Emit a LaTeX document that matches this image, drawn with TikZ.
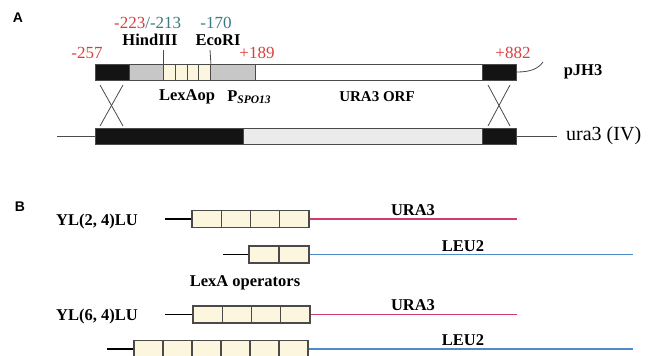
\documentclass[tikz,border=0pt]{standalone}
\usepackage{fontspec}
\setmainfont{Liberation Serif}
\setsansfont{Liberation Sans}
\definecolor{numred}{HTML}{D8403F}
\definecolor{numteal}{HTML}{3A7A80}
\definecolor{urared}{HTML}{D23C6B}
\definecolor{leublue}{HTML}{4F8AC9}
\definecolor{opcream}{HTML}{FCF6DE}
\definecolor{barline}{HTML}{4A4A4A}
\begin{document}
\begin{tikzpicture}[x=1pt,y=-1pt,
  lbl/.style={font=\fontsize{16.5}{18}\selectfont\bfseries,inner sep=0pt},
  num/.style={font=\fontsize{17}{19}\selectfont,inner sep=0pt},
  panel/.style={font=\sffamily\bfseries\fontsize{14}{16}\selectfont,inner sep=0pt},
  seg/.style={draw=barline,line width=0.9pt,minimum height=16pt,inner sep=0pt,anchor=west},
  opbox/.style={draw=barline,fill=opcream,line width=1.3pt,minimum height=17pt,inner sep=0pt},
  xline/.style={draw=barline,line width=0.8pt}]
\useasboundingbox (0,0) rectangle (648,356);
\clip (0,0) rectangle (648,356);
% Panel A: integration of pJH3 at ura3
\node[panel] (pA) at (18,18) {A};
\node[seg,fill=black!92,minimum width=34pt] (blkA) at (95,72) {};
\node[seg,fill=black!22,minimum width=34pt] (grayA) at (129,72) {};
\foreach \i in {1,...,4}
  \node[seg,fill=opcream,minimum width=11.75pt] (op\i) at ({163+(\i-1)*11.75},72) {};
\node[seg,fill=black!22,minimum width=45pt] (grayB) at (210,72) {};
\node[seg,fill=white,minimum width=227pt] (orf) at (255,72) {};
\node[seg,fill=black!92,minimum width=34pt] (blkB) at (482,72) {};
\coordinate (hind) at (163,50);
\coordinate (eco) at (210,50);
\draw[barline,line width=0.8pt] (op1.north west) -- (hind);
\draw[barline,line width=0.8pt] (op4.north east) -- (eco);
\coordinate (tail) at (543,62);
\draw[barline,line width=0.8pt] (blkB.east) .. controls (530,72) and (538,69) .. (tail);
% chromosome
\coordinate (chrL) at (57,136);
\coordinate (chrR) at (557,136);
\node[seg,fill=black!92,minimum width=148pt] (blkC) at (95,136) {};
\node[seg,fill=black!8,minimum width=239pt] (lgray) at (243,136) {};
\node[seg,fill=black!92,minimum width=34pt] (blkD) at (482,136) {};
\draw[barline,line width=1pt] (chrL) -- (blkC.west);
\draw[barline,line width=1pt] (blkD.east) -- (chrR);
% crossovers
\coordinate (xa1) at (100,85); \coordinate (xa2) at (123,85);
\coordinate (xb1) at (100,126); \coordinate (xb2) at (123,126);
\draw[xline] (xa1) -- (xb2); \draw[xline] (xa2) -- (xb1);
\coordinate (xc1) at (488,85); \coordinate (xc2) at (510,85);
\coordinate (xd1) at (488,126); \coordinate (xd2) at (510,126);
\draw[xline] (xc1) -- (xd2); \draw[xline] (xc2) -- (xd1);
% labels
\node[num,text=numred] (n257) at (87,53) {-257};
\node[num,anchor=west] (n223) at (114,23) {\textcolor{numred}{-223}\textcolor{numteal}{/-213}};
\node[num,text=numteal] (n170) at (216,23) {-170};
\node[lbl] (hindL) at (150,40) {HindIII};
\node[lbl] (ecoL) at (218,40) {EcoRI};
\node[num,text=numred] (n189) at (257,53) {+189};
\node[num,text=numred] (n882) at (513,53) {+882};
\node[lbl] (pjh) at (583,72) {pJH3};
\node[lbl] (lexop) at (187,97) {LexAop};
\node[lbl] (pspo) at (249,97) {P\raisebox{-0.35ex}{\fontsize{11.5}{12}\selectfont\itshape SPO13}};
\node[lbl,font=\fontsize{15}{16}\selectfont\bfseries] (orfL) at (377,97) {URA3 ORF};
\node[num,font=\fontsize{20}{22}\selectfont,anchor=west] (ura3) at (566,136) {ura3 (IV)};
% Panel B: reporter constructs
\node[panel] (pB) at (20,207) {B};
\node[lbl] (yl24) at (97,222) {YL(2, 4)LU};
\node[lbl] (yl64) at (97,317) {YL(6, 4)LU};
\foreach \i in {1,...,4}
  \node[opbox,minimum width=29.25pt] (ra\i) at ({192+(\i-0.5)*29.25},219) {};
\foreach \i in {1,2}
  \node[opbox,minimum width=30pt] (la\i) at ({249+(\i-0.5)*30},254.5) {};
\foreach \i in {1,...,4}
  \node[opbox,minimum width=29.25pt] (rb\i) at ({193+(\i-0.5)*29.25},314.5) {};
\foreach \i in {1,...,6}
  \node[opbox,minimum width=29pt] (lb\i) at ({134+(\i-0.5)*29},349) {};
\coordinate (raL) at (165,219); \coordinate (raR) at (517,219);
\coordinate (laL) at (223,254.5); \coordinate (laR) at (633,254.5);
\coordinate (rbL) at (165,314.5); \coordinate (rbR) at (517,314.5);
\coordinate (lbL) at (107,349); \coordinate (lbR) at (633,349);
\draw[black,line width=1.3pt] (raL) -- (ra1.west);
\draw[urared,line width=1.3pt] (ra4.east) -- (raR);
\draw[black,line width=1.3pt] (laL) -- (la1.west);
\draw[leublue,line width=1.3pt] (la2.east) -- (laR);
\draw[black,line width=1.3pt] (rbL) -- (rb1.west);
\draw[urared,line width=1.3pt] (rb4.east) -- (rbR);
\draw[black,line width=1.3pt] (lbL) -- (lb1.west);
\draw[leublue,line width=1.3pt] (lb6.east) -- (lbR);
\node[lbl] (uraA) at (413,210) {URA3};
\node[lbl] (leuA) at (463,246) {LEU2};
\node[lbl] (lexops) at (245,283) {LexA operators};
\node[lbl] (uraB) at (413,305) {URA3};
\node[lbl] (leuB) at (463,340) {LEU2};
\end{tikzpicture}
\end{document}
